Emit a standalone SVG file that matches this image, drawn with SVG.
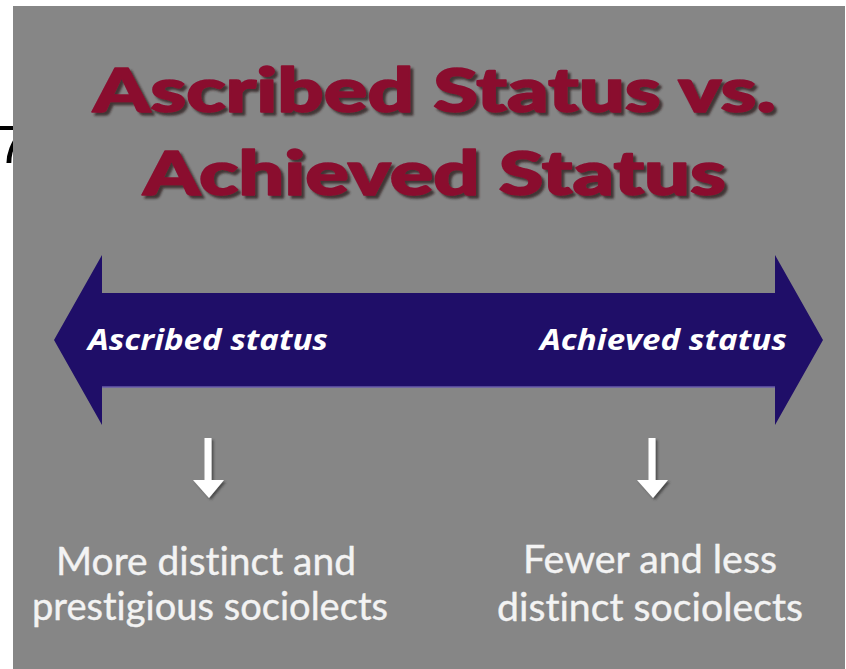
<svg xmlns="http://www.w3.org/2000/svg" width="846" height="669" viewBox="0 0 846 669">
  <style>
    text { font-variant-ligatures: none; }
    .title { font-family: "Lato", "Open Sans", "Liberation Sans", sans-serif; font-weight: 900; font-size: 60px; fill: #8a0b2f; stroke: #8a0b2f; stroke-width: 1.6; stroke-linejoin: round; filter: url(#titleShadow); }
    .band-label { font-family: "Open Sans", "Liberation Sans", sans-serif; font-weight: 700; font-style: italic; font-size: 28px; fill: #ffffff; }
    .outcome { font-family: "Lato", "Open Sans", "Liberation Sans", sans-serif; font-weight: 400; font-size: 39px; fill: #f3f3f3; text-anchor: middle; stroke: #f3f3f3; stroke-width: 0.4; }
    .down { fill: #ffffff; filter: url(#arrowShadow); }
  </style>
  <defs>
    <filter id="titleShadow" x="-5%" y="-20%" width="110%" height="140%">
      <feDropShadow dx="3" dy="3" stdDeviation="0.8" flood-color="#2e2024" flood-opacity="0.8"/>
    </filter>
    <filter id="arrowShadow" x="-50%" y="-20%" width="200%" height="140%">
      <feDropShadow dx="2" dy="2" stdDeviation="1" flood-color="#303030" flood-opacity="0.7"/>
    </filter>
    <!-- white down-pointing arrow, origin at the top of its shaft -->
    <path id="downArrow" d="M -3.5 0 L 3.5 0 L 3.5 42 L 16 42 L 1 60 L -15 42 L -3.5 42 Z"/>
  </defs>

  <!-- page margin -->
  <rect x="0" y="0" width="846" height="669" fill="#ffffff"/>
  <!-- stray slide-number glyph at the far left edge -->
  <text x="-3" y="163" font-family="Liberation Sans, sans-serif" font-size="53" fill="#000000">7</text>
  <!-- slide panel -->
  <rect x="13" y="6" width="832" height="663" fill="#868686"/>

  <g id="title">
    <text class="title" x="93" y="112" textLength="683" lengthAdjust="spacingAndGlyphs">Ascribed Status vs.</text>
    <text class="title" x="143" y="195" textLength="583" lengthAdjust="spacingAndGlyphs">Achieved Status</text>
  </g>

  <g id="status-scale">
    <path d="M 54 340 L 102 255 L 102 293 L 775 293 L 775 255 L 823 340 L 775 425 L 775 387 L 102 387 L 102 425 Z" fill="#1f0e68"/>
    <line x1="102" y1="387" x2="775" y2="387" stroke="#6a5cab" stroke-width="1.5"/>
    <text class="band-label" x="88" y="350" textLength="240" lengthAdjust="spacingAndGlyphs">Ascribed status</text>
    <text class="band-label" x="540" y="350" textLength="247" lengthAdjust="spacingAndGlyphs">Achieved status</text>
  </g>

  <g id="connectors">
    <use href="#downArrow" class="down" x="208" y="438"/>
    <use href="#downArrow" class="down" x="652" y="438"/>
  </g>

  <g id="ascribed-outcome">
    <text class="outcome" x="206" y="575" textLength="300" lengthAdjust="spacingAndGlyphs">More distinct and</text>
    <text class="outcome" x="210" y="620" textLength="356" lengthAdjust="spacingAndGlyphs">prestigious sociolects</text>
  </g>

  <g id="achieved-outcome">
    <text class="outcome" x="650" y="573" textLength="254" lengthAdjust="spacingAndGlyphs">Fewer and less</text>
    <text class="outcome" x="650" y="621" textLength="306" lengthAdjust="spacingAndGlyphs">distinct sociolects</text>
  </g>
</svg>
